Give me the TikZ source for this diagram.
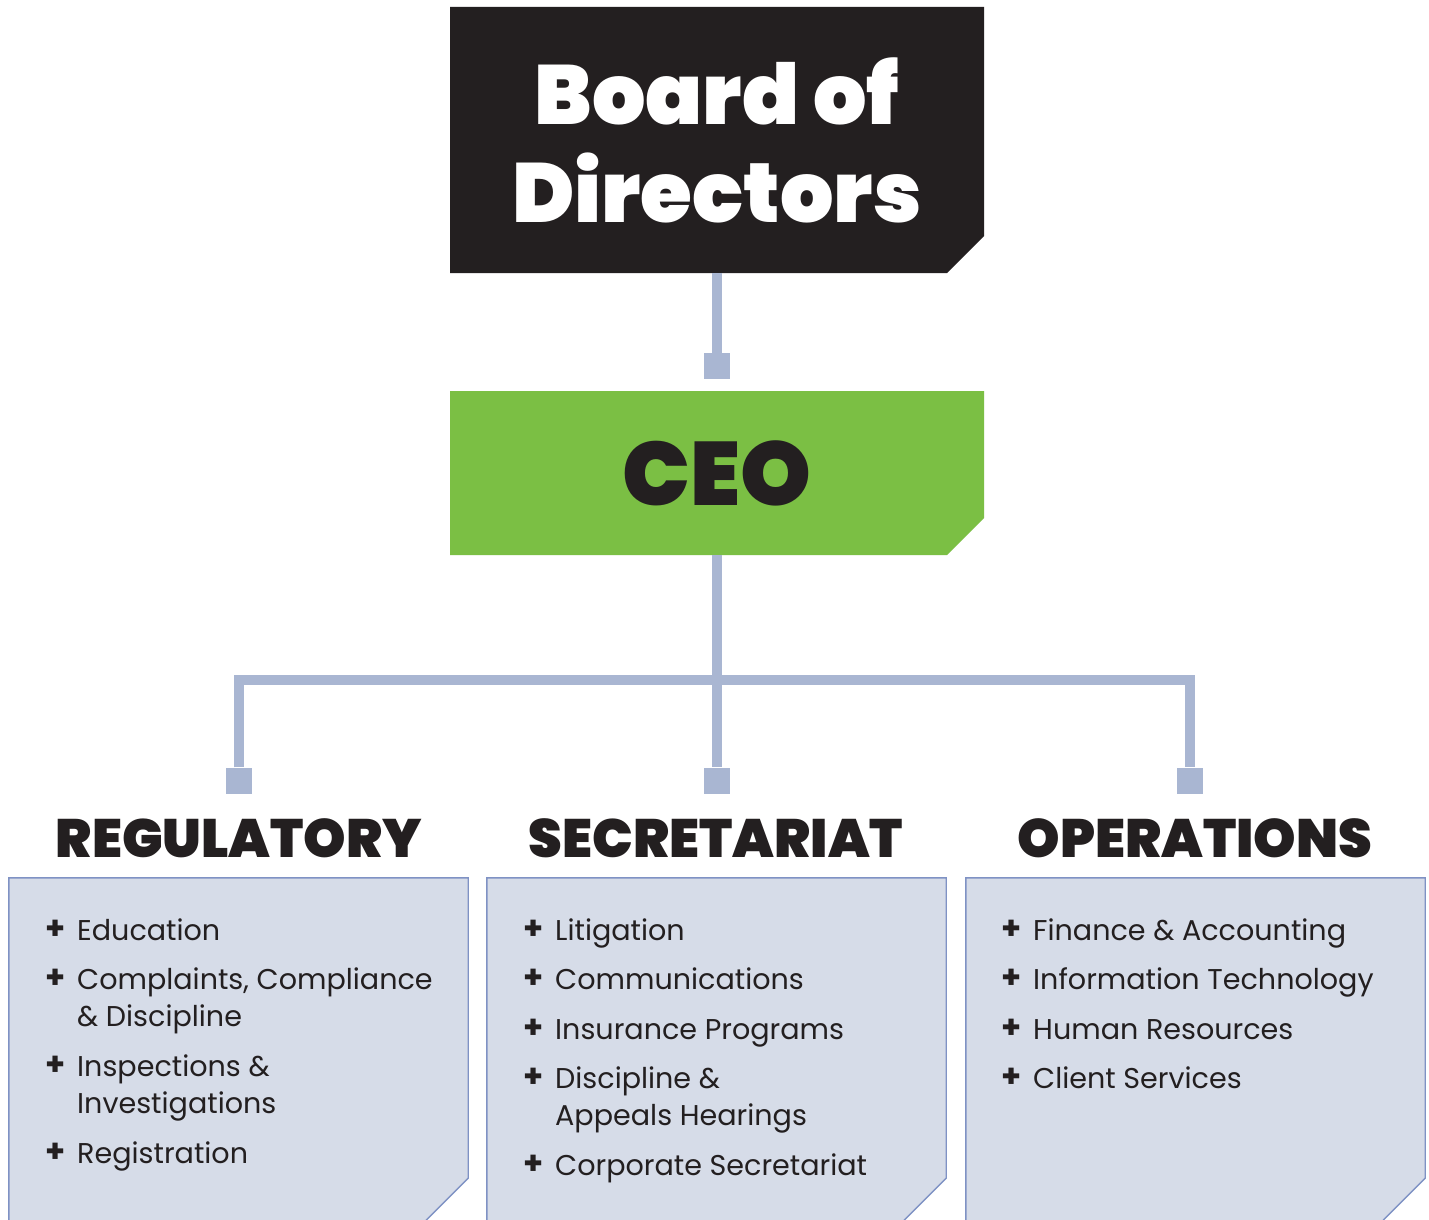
\documentclass[tikz,border=0pt]{standalone}
\usepackage{fontspec}
\setmainfont{Poppins}
\newfontfamily\heavy{Poppins Black}
\definecolor{boardc}{HTML}{231F20}
\definecolor{ceoc}{HTML}{7BBF44}
\definecolor{linkc}{HTML}{A9B6D2}
\definecolor{panelc}{HTML}{D6DCE8}
\definecolor{panelb}{HTML}{7F92C4}
\definecolor{textc}{HTML}{231F20}
\begin{document}
\begin{tikzpicture}[x=1pt,y=-1pt,
  topbox/.style={inner sep=0pt, minimum width=534pt,
    path picture={\fill[#1] (path picture bounding box.north west) -- (path picture bounding box.north east)
      -- ([yshift=37pt]path picture bounding box.south east) -- ([xshift=-37pt]path picture bounding box.south east)
      -- (path picture bounding box.south west) -- cycle;}},
  panel/.style={inner sep=0pt, minimum width=459pt, minimum height=342pt,
    path picture={\fill[panelc] (path picture bounding box.north west) -- (path picture bounding box.north east)
      -- ([yshift=42pt]path picture bounding box.south east) -- ([xshift=-42pt]path picture bounding box.south east)
      -- (path picture bounding box.south west) -- cycle;}},
  pborder/.style={draw=panelb, line width=1.4pt},
  sq/.style={fill=linkc, minimum size=26pt, inner sep=0pt},
  link/.style={draw=linkc, line width=10.5pt, miter limit=10},
  head/.style={font=\heavy\fontsize{54}{54}\selectfont, text=textc, inner sep=0pt},
  item/.style={anchor=base west, font=\fontsize{28.6}{28.6}\selectfont, text=textc, inner sep=0pt},
  bul/.style={font=\bfseries\fontsize{32}{32}\selectfont, text=textc, inner sep=0pt}
]
\useasboundingbox (0,0) rectangle (1429,1220);
\fill[white] (0,0) rectangle (1429,1220);

% top boxes
\node[topbox=boardc, minimum height=266pt, text=white, align=center,
  font=\heavy\fontsize{84}{98}\selectfont] (board) at (717,140) {Board of\\Directors};
\node[topbox=ceoc, minimum height=164pt, text=textc,
  font=\heavy\fontsize{90}{90}\selectfont] (ceo) at (717,473) {CEO};

% connector squares
\node[sq] (s0) at (717,366) {};
\node[sq] (sL) at (239,780.5) {};
\node[sq] (sM) at (717,780.5) {};
\node[sq] (sR) at (1190,780.5) {};
\coordinate (bar) at (717,680);

% connectors
\draw[link] (board.south) -- (s0.north);
\draw[link] (ceo.south) -- (sM.north);
\draw[link] (sL.north) |- (bar) -| (sR.north);

% headings
\node[head] (hL) at (239,838) {REGULATORY};
\node[head] (hM) at (716,838) {SECRETARIAT};
\node[head] (hR) at (1195,838) {OPERATIONS};

% panels
\node[panel] (pL) at (238.5,1049) {};
\node[panel] (pM) at (716.5,1049) {};
\node[panel] (pR) at (1195.5,1049) {};
\foreach \p in {pL,pM,pR}{
  \draw[pborder] ([yshift=-2pt]\p.south west) -- (\p.north west) -- (\p.north east)
    -- ([yshift=42pt]\p.south east) -- ([xshift=-42pt]\p.south east);
}

% regulatory items
\node[bul] (bL1) at (55.5,930) {+};
\node[item] (tL1) at (77,940) {Education};
\node[bul] (bL2) at (55.5,979) {+};
\node[item] (tL2a) at (77,989) {Complaints, Compliance};
\node[item] (tL2b) at (77,1026) {\& Discipline};
\node[bul] (bL3) at (55.5,1066) {+};
\node[item] (tL3a) at (77,1076) {Inspections \&};
\node[item] (tL3b) at (77,1113) {Investigations};
\node[bul] (bL4) at (55.5,1153) {+};
\node[item] (tL4) at (77,1163) {Registration};

% secretariat items
\node[bul] (bM1) at (533.5,930) {+};
\node[item] (tM1) at (555,940) {Litigation};
\node[bul] (bM2) at (533.5,979) {+};
\node[item] (tM2) at (555,989) {Communications};
\node[bul] (bM3) at (533.5,1029) {+};
\node[item] (tM3) at (555,1039) {Insurance Programs};
\node[bul] (bM4) at (533.5,1078) {+};
\node[item] (tM4a) at (555,1088) {Discipline \&};
\node[item] (tM4b) at (555,1125) {Appeals Hearings};
\node[bul] (bM5) at (533.5,1165) {+};
\node[item] (tM5) at (555,1175) {Corporate Secretariat};

% operations items
\node[bul] (bR1) at (1012,930) {+};
\node[item] (tR1) at (1033,940) {Finance \& Accounting};
\node[bul] (bR2) at (1012,979) {+};
\node[item] (tR2) at (1033,989) {Information Technology};
\node[bul] (bR3) at (1012,1029) {+};
\node[item] (tR3) at (1033,1039) {Human Resources};
\node[bul] (bR4) at (1012,1078) {+};
\node[item] (tR4) at (1033,1088) {Client Services};
\end{tikzpicture}
\end{document}
